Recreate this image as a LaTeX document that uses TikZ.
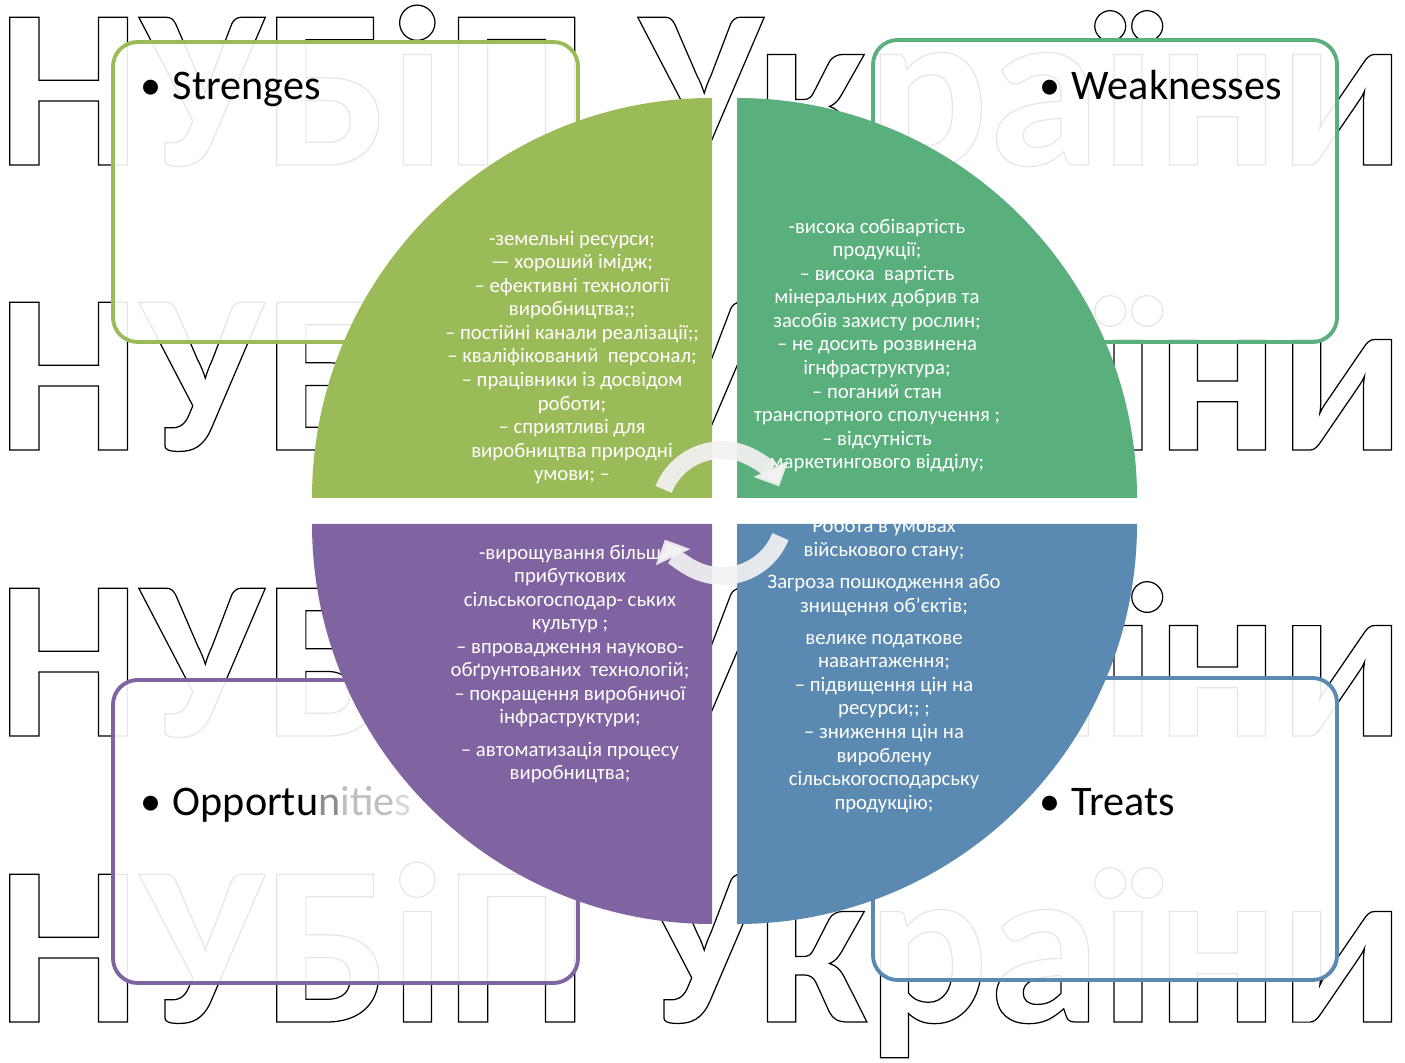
\documentclass[tikz,border=0pt]{standalone}
\usepackage{fontspec}
\setmainfont{Carlito}
\usepackage{graphicx}
\usetikzlibrary{calc, arrows.meta, positioning}

\definecolor{strcol}{HTML}{9BBB59}
\definecolor{weakcol}{HTML}{5AB07C}
\definecolor{oppcol}{HTML}{8064A2}
\definecolor{thrcol}{HTML}{5A8AB1}
\definecolor{arrcol}{HTML}{F2F2F2}

% outlined watermark line (stroked glyphs only)
\newcommand{\wmtext}{\resizebox{801pt}{91pt}{\special{pdf:literal direct 1 Tr 0.7 w}\fontsize{130}{130}\selectfont\bfseries НУБіП України\special{pdf:literal direct 0 Tr}}}

\tikzset{
  swotbox/.style={draw, line width=2.2pt, rounded corners=14pt, fill=white, fill opacity=0.9},
  swottitle/.style={anchor=base west, inner sep=0pt, font=\fontsize{24}{28}\selectfont},
  quadtext/.style={text=white, align=center, inner sep=0pt, font=\fontsize{11.8}{13.4}\selectfont},
  wmark/.style={anchor=base west, inner sep=0pt, text=black},
  cyclearrow/.style={draw=arrcol, draw opacity=0.92, line width=10pt, -{Triangle[width=21pt,length=11pt]}}
}

\begin{document}
\begin{tikzpicture}[x=0.02cm, y=0.02cm]
\useasboundingbox (0,0) rectangle (1405,1062);
\fill[white] (0,0) rectangle (1405,1062);

% watermark rows
\foreach \r/\yb in {1/897, 2/612, 3/326, 4/40}
  \node[wmark] (wm\r) at (-3,\yb) {\wmtext};

% four boxes
\draw[swotbox, draw=strcol] (113,720) rectangle (578,1020);
\draw[swotbox, draw=weakcol] (873,720) rectangle (1337,1022);
\draw[swotbox, draw=oppcol] (113,79) rectangle (578,382);
\draw[swotbox, draw=thrcol] (873,82) rectangle (1337,384);

% quarter discs
\fill[strcol] (712,564) -- ++(-400,0) arc[start angle=180, end angle=90, radius=400] -- cycle;
\fill[weakcol] (737,564) -- ++(400,0) arc[start angle=0, end angle=90, radius=400] -- cycle;
\fill[oppcol] (712,538) -- ++(-400,0) arc[start angle=180, end angle=270, radius=400] -- cycle;
\fill[thrcol] (737,538) -- ++(400,0) arc[start angle=0, end angle=-90, radius=400] -- cycle;

% texts in the quarters
\node[quadtext] (strtext) at (572,704.5) {-земельні ресурси;\\— хороший імідж;\\– ефективні технології\\виробництва;;\\– постійні канали реалізації;;\\– кваліфікований~ персонал;\\– працівники із досвідом\\роботи;\\– сприятливі для\\виробництва природні\\умови; –};
\node[quadtext] (weaktext) at (877,716.5) {-висока собівартість\\продукції;\\– висока~ вартість\\мінеральних добрив та\\засобів захисту рослин;\\– не досить розвинена\\ігнфраструктура;\\– поганий стан\\транспортного сполучення ;\\– відсутність\\маркетингового відділу;};
\node[quadtext] (opptext) at (570,398) {-вирощування більш\\прибуткових\\сільськогосподар- ських\\культур ;\\– впровадження науково-\\обґрунтованих~ технологій;\\– покращення виробничої\\інфраструктури;\\[5pt]– автоматизація процесу\\виробництва;};
\node[quadtext] (thrtext) at (884,396.5) {Робота в умовах\\військового стану;\\[5pt]Загроза пошкодження або\\знищення об’єктів;\\[5pt]велике податкове\\навантаження;\\– підвищення цін на\\ресурси;; ;\\– зниження цін на\\вироблену\\сільськогосподарську\\продукцію;};

% cycle arrows
\coordinate (hub) at (722,549);
\draw[cyclearrow] ($(hub)+(158:63)$) arc[start angle=158, end angle=25, radius=63];
\draw[cyclearrow] ($(hub)+(-22:63)$) arc[start angle=-22, end angle=-155, radius=63];

% titles
\node[swottitle] (strtitle) at (140,962) {\makebox[18.5pt][l]{\textbullet}Strenges};
\node[swottitle] (weaktitle) at (1039,962) {\makebox[18.5pt][l]{\textbullet}Weaknesses};
\node[swottitle] (opptitle) at (140,247) {\makebox[18.5pt][l]{\textbullet}Opportu\textcolor{black!45}{n}\textcolor{black!25}{itie}\textcolor{black!15}{s}};
\node[swottitle] (thrtitle) at (1039,247) {\makebox[18.5pt][l]{\textbullet}Treats};
\end{tikzpicture}
\end{document}
